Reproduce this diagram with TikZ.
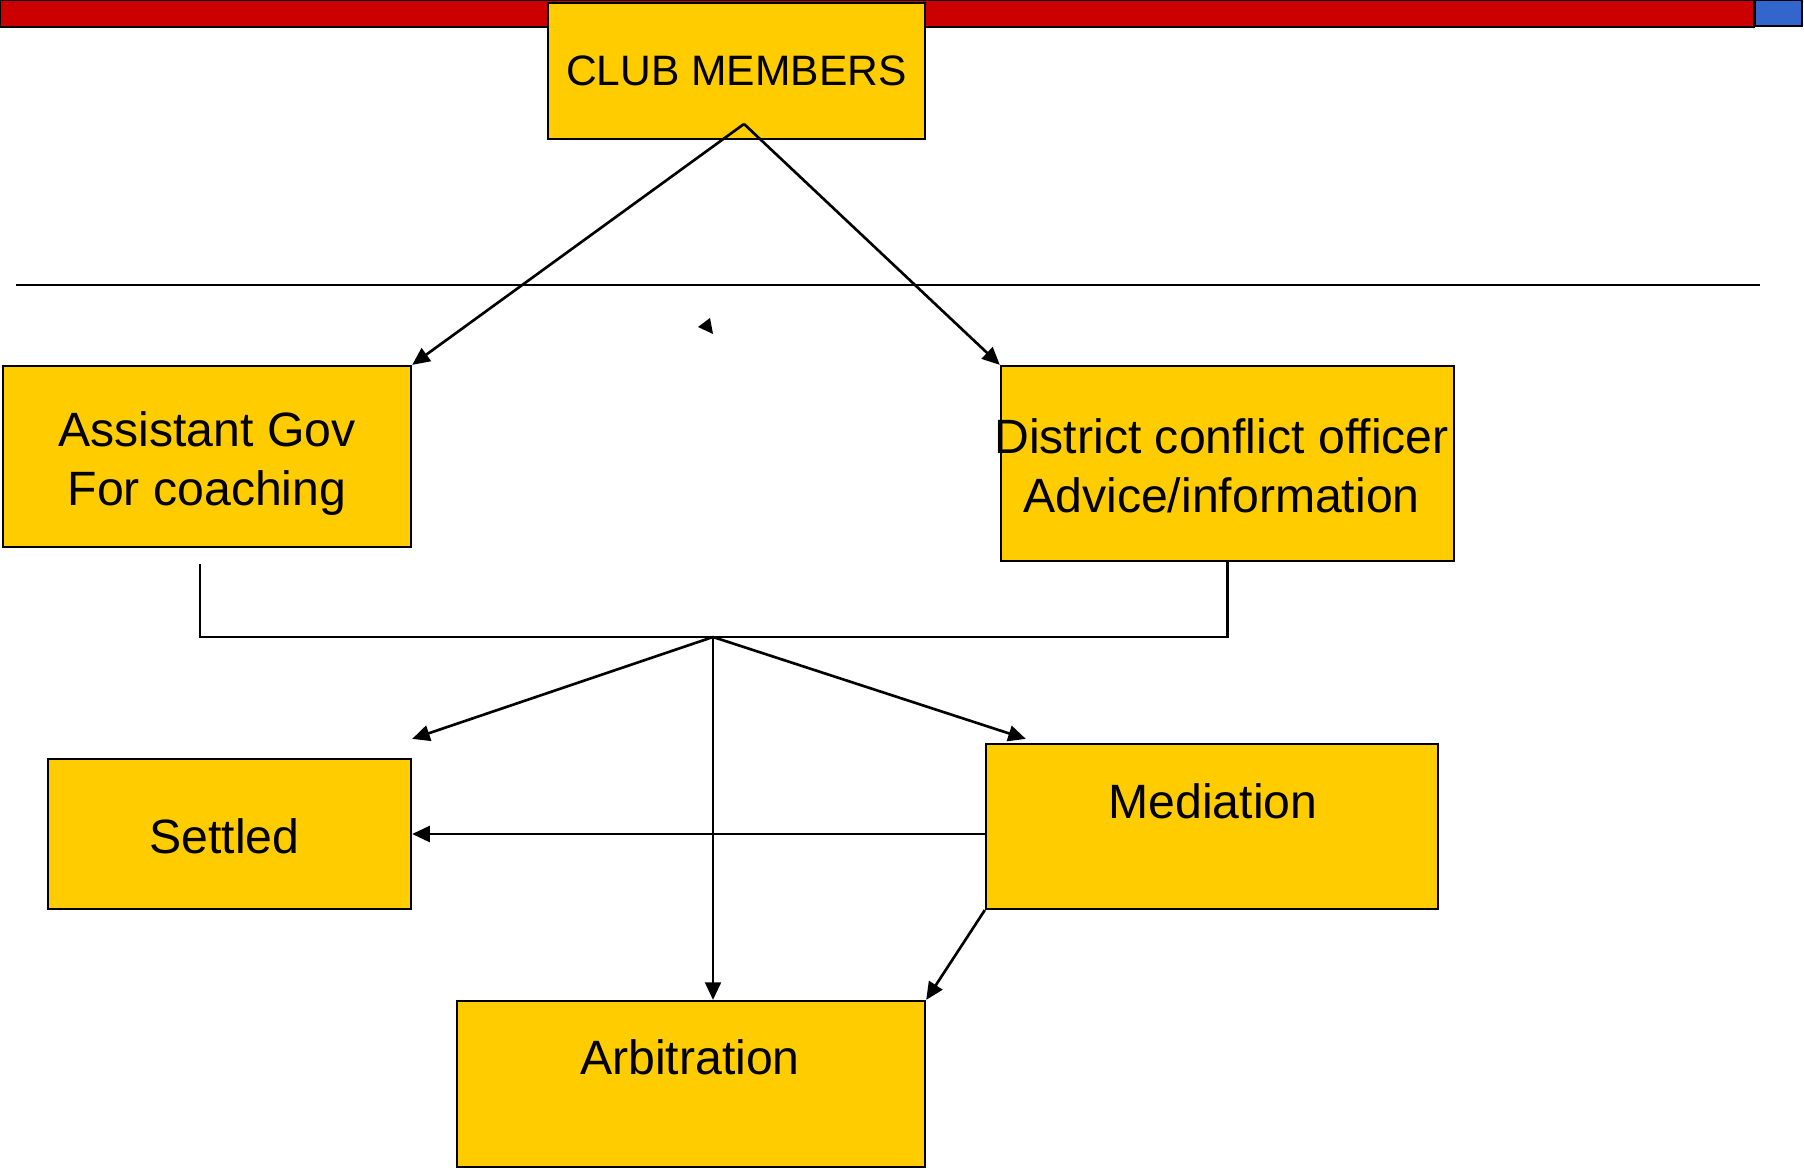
\documentclass[tikz,border=0pt]{standalone}
\usepackage{fontspec}
\setmainfont{Liberation Sans}
\usetikzlibrary{arrows.meta}

\definecolor{boxyellow}{HTML}{FFCC00}
\definecolor{barred}{HTML}{CC0000}
\definecolor{barblue}{HTML}{3366CC}

\tikzset{
  box/.style={draw, fill=boxyellow, line width=0.6pt, inner sep=0pt},
  boxtext/.style={align=center, inner sep=0pt, font=\fontsize{13.7pt}{16.7pt}\selectfont},
  arr/.style={line width=0.75pt, -{Triangle[length=5pt,width=4.5pt]}},
  plain/.style={line width=0.65pt}
}

\begin{document}
\begin{tikzpicture}[x=0.01cm, y=-0.01cm]

    % Fix the page to the reference size
    \useasboundingbox (0,0) rectangle (1804,1168);

    % Draw the coloured bar along the top
    \draw[plain, fill=barred] (0,0) rectangle (1754,27);
    \draw[plain, fill=barblue] (1755,0) rectangle (1802,26);

    % Define the coordinates used by the connectors
    \coordinate (apex) at (744,124);
    \coordinate (ruleL) at (16,285);
    \coordinate (ruleR) at (1760,285);
    \coordinate (hub) at (713,637);

    % Draw the boxes
    \node[box, minimum width=3.77cm, minimum height=1.36cm,
      font=\fontsize{12.1pt}{14.5pt}\selectfont] (club) at (736.5,71) {CLUB MEMBERS};
    \node[box, minimum width=4.08cm, minimum height=1.81cm] (agov) at (207,456.5) {};
    \node[box, minimum width=4.53cm, minimum height=1.95cm] (dco) at (1227.5,463.5) {};
    \node[box, minimum width=3.63cm, minimum height=1.50cm] (settled) at (229.5,834) {};
    \node[box, minimum width=4.52cm, minimum height=1.65cm] (med) at (1212,826.5) {};
    \node[box, minimum width=4.68cm, minimum height=1.66cm] (arb) at (691,1084) {};

    % Label the boxes
    \node[boxtext] (agovtext) at (207,463.5) {Assistant Gov\\For coaching};
    \node[boxtext] (dcotext) at (1221.5,466) {District conflict officer\\Advice/information};
    \node[boxtext] (settledtext) at (224.5,836) {Settled};
    \node[boxtext] (medtext) at (1213,801) {Mediation};
    \node[boxtext] (arbtext) at (690,1057) {Arbitration};

    % Draw the arrows from the club members
    \draw[arr] (apex) -- (agov.north east);
    \draw[arr] (apex) -- (dco.north west);

    % Draw the dividing line
    \draw[plain] (ruleL) -- (ruleR);

    % Stray arrowhead
    \fill (698,327) -- (710,318) -- (713,334) -- cycle;

    % Draw the bracket joining the two advisers
    \draw[plain] ([xshift=-0.07cm, yshift=-0.16cm]agov.south) |- (hub) -| (dco.south);

    % Draw the arrows to the outcomes
    \draw[arr] (hub) -- ([yshift=0.19cm]settled.north east);
    \draw[arr] (hub) -- ([xshift=0.41cm, yshift=0.04cm]med.north west);
    \draw[arr] (hub) -- (hub |- arb.north);
    \draw[arr] (med.west |- settled.east) -- (settled.east);
    \draw[arr] (med.south west) -- (arb.north east);

\end{tikzpicture}
\end{document}
